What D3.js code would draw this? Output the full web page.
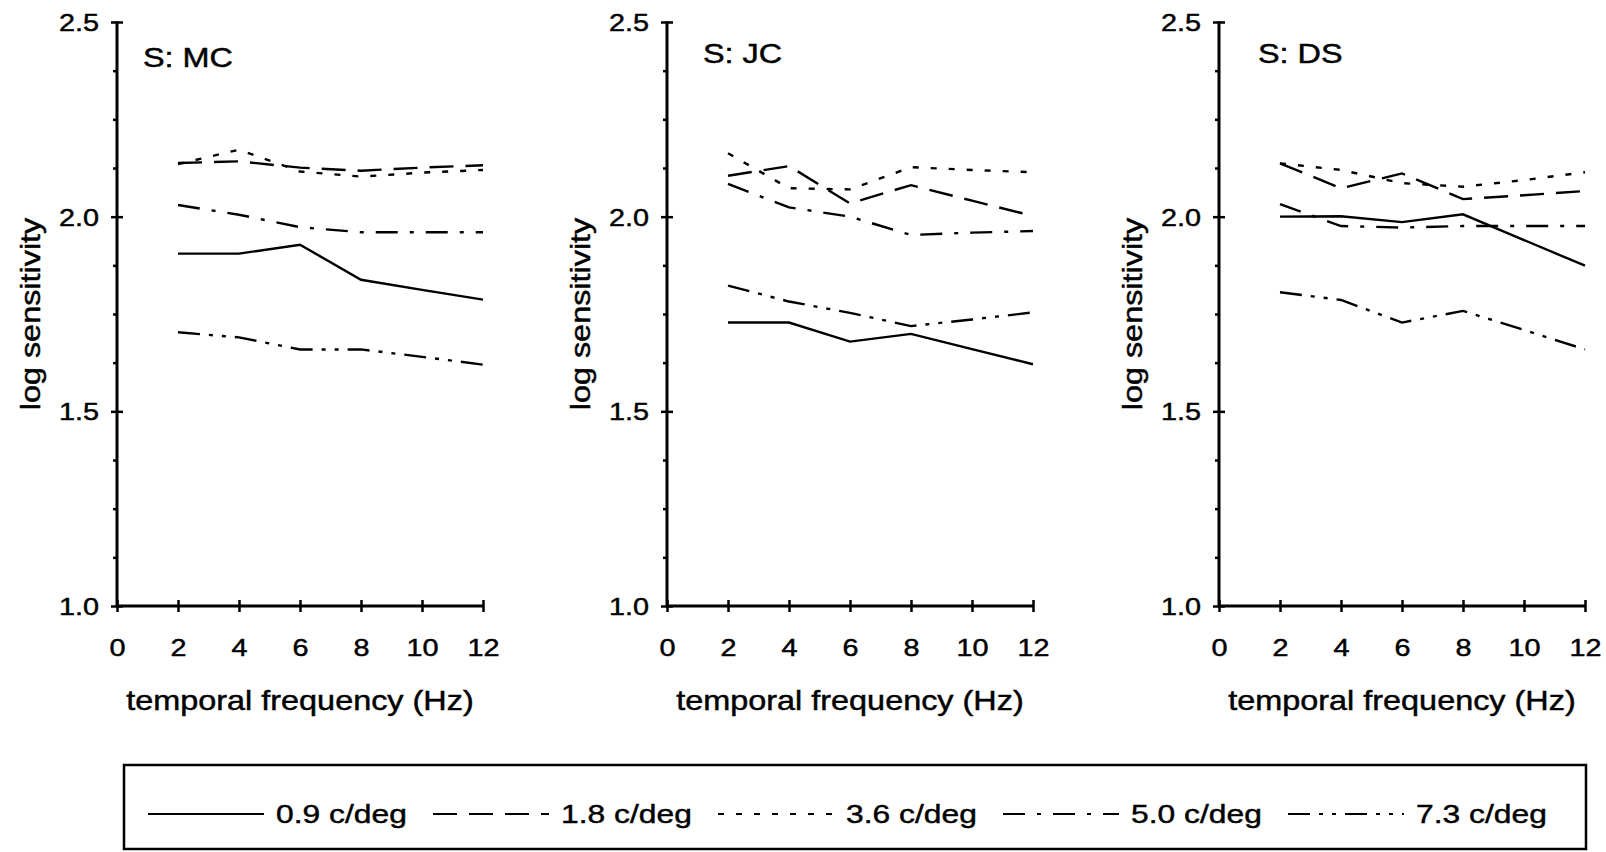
<!DOCTYPE html>
<meta charset="utf-8">
<script src="https://d3js.org/d3.v7.min.js"></script>
<style>
  body { margin: 0; background: #fff; }
  text { font-family: "Liberation Sans", Arial, sans-serif; fill: #000; stroke: #000; stroke-width: 0.45px; }
  .line { fill: none; stroke: #000; stroke-width: 2.4px; }
  .domain { stroke: #000; stroke-width: 3px; }
  .tick line { stroke: #000; stroke-width: 2.5px; }
</style>
<body>
<script>
// temporal frequencies (Hz)
var freqs = [2, 4, 6, 8, 10, 12];
var seriesNames = ["0.9 c/deg", "1.8 c/deg", "3.6 c/deg", "5.0 c/deg", "7.3 c/deg"];
var subjects = ["S: MC", "S: JC", "S: DS"];

// log sensitivity, one array per spatial frequency, per subject
var mc09 = [1.905, 1.905, 1.928, 1.838, 1.812, 1.787];
var mc18 = [2.138, 2.142, 2.126, 2.118, 2.126, 2.132];
var mc36 = [2.135, 2.172, 2.116, 2.103, 2.113, 2.120];
var mc50 = [2.030, 2.005, 1.973, 1.960, 1.960, 1.960];
var mc73 = [1.703, 1.690, 1.659, 1.659, 1.640, 1.620];

var jc09 = [1.728, 1.728, 1.679, 1.699, 1.660, 1.621];
var jc18 = [2.105, 2.130, 2.034, 2.081, 2.041, 2.002];
var jc36 = [2.163, 2.073, 2.070, 2.127, 2.120, 2.114];
var jc50 = [2.084, 2.024, 2.000, 1.953, 1.959, 1.963];
var jc73 = [1.823, 1.782, 1.753, 1.719, 1.736, 1.754];

var ds09 = [2.000, 2.001, 1.986, 2.006, 1.940, 1.874];
var ds18 = [2.137, 2.073, 2.111, 2.045, 2.055, 2.066];
var ds36 = [2.137, 2.120, 2.086, 2.077, 2.094, 2.114];
var ds50 = [2.032, 1.976, 1.972, 1.976, 1.976, 1.976];
var ds73 = [1.806, 1.786, 1.728, 1.758, 1.709, 1.659];

var panelData = [
  [mc09, mc18, mc36, mc50, mc73],
  [jc09, jc18, jc36, jc50, jc73],
  [ds09, ds18, ds36, ds50, ds73]
];

var xTicks = [0, 2, 4, 6, 8, 10, 12];
var yMajor = [1.0, 1.5, 2.0, 2.5];
var yMinor = d3.range(1.0, 2.5001, 0.125);

// line styles (solid, dashed, dotted, dash-dot, dash-dot-dot)
var dashStyles = [null, "24,12", "6,12", "22,12,4,12", "22,9,4,9,4,9"];

var svg = d3.select("body").append("svg")
  .attr("width", 1606)
  .attr("height", 852);

var stretch = 1.2; // the scanned lettering is wide

var panelLeft = [117, 667, 1219];
var pw = 366, plotTop = 22, plotBottom = 606;

var y = d3.scaleLinear().domain([1.0, 2.5]).range([plotBottom, plotTop]);

function isMajor(d) {
  return yMajor.some(function(m) { return Math.abs(m - d) < 1e-6; });
}

panelLeft.forEach(function(left, p) {
  var x = d3.scaleLinear().domain([0, 12]).range([left, left + pw]);
  var g = svg.append("g");

  // x axis
  var gx = g.append("g")
    .attr("transform", "translate(0," + plotBottom + ")")
    .call(d3.axisBottom(x).tickValues(xTicks).tickSizeOuter(0).tickFormat(d3.format("d")));
  gx.selectAll(".tick line").attr("y1", -6).attr("y2", 6);
  gx.selectAll(".tick text")
    .attr("y", 50).attr("dy", null)
    .style("font-size", "24px")
    .attr("transform", "scale(" + stretch + ",1)");

  // y axis
  var gy = g.append("g")
    .attr("transform", "translate(" + left + ",0)")
    .call(d3.axisLeft(y).tickValues(yMinor).tickSizeOuter(0)
      .tickFormat(function(d) { return isMajor(d) ? d3.format(".1f")(d) : ""; }));
  gy.selectAll(".tick line")
    .attr("x1", function(d) { return isMajor(d) ? 6 : 0; })
    .attr("x2", function(d) { return isMajor(d) ? -6 : -4; });
  gy.selectAll(".tick text")
    .attr("x", -15).attr("dy", "0.36em")
    .style("font-size", "24px")
    .attr("transform", "scale(" + stretch + ",1)");
  gy.select(".domain").attr("d", "M0," + (plotTop - 1) + "V" + (plotBottom + 1));
  gx.select(".domain").attr("d", "M" + left + ",0H" + (left + pw));

  // axis titles
  g.append("text")
    .attr("transform", "translate(" + (left + pw / 2) + "," + (plotBottom + 104) + ") scale(" + stretch + ",1)")
    .attr("text-anchor", "middle")
    .style("font-size", "27px")
    .text("temporal frequency (Hz)");

  g.append("text")
    .attr("transform", "translate(" + (left - 77) + "," + ((plotTop + plotBottom) / 2) + ") rotate(-90) scale(" + stretch + ",1)")
    .attr("text-anchor", "middle")
    .style("font-size", "27px")
    .text("log sensitivity");

  g.append("text")
    .attr("transform", "translate(" + [143, 703, 1258][p] + "," + [67, 63, 63][p] + ") scale(" + stretch + ",1)")
    .style("font-size", "27px")
    .text(subjects[p]);

  var line = d3.line()
    .x(function(d, i) { return x(freqs[i]); })
    .y(function(d) { return y(d); });

  g.selectAll("path.line")
    .data(panelData[p])
    .enter().append("path")
    .attr("class", "line")
    .attr("d", line)
    .attr("stroke-dasharray", function(d, i) { return dashStyles[i]; });
});

// legend
var legend = svg.append("g");
legend.append("rect")
  .attr("x", 124).attr("y", 765)
  .attr("width", 1462).attr("height", 84)
  .attr("fill", "none").attr("stroke", "#000").attr("stroke-width", 2.5);

var lx = d3.scaleBand().domain(d3.range(seriesNames.length)).range([148, 148 + 5 * 285]);
var items = legend.selectAll("g.item")
  .data(seriesNames)
  .enter().append("g")
  .attr("transform", function(d, i) { return "translate(" + lx(i) + ",823)"; });
items.append("line")
  .attr("x1", 0).attr("x2", 116).attr("y1", -9).attr("y2", -9)
  .attr("stroke", "#000").attr("stroke-width", 2)
  .attr("stroke-dasharray", function(d, i) { return dashStyles[i]; });
items.append("text")
  .attr("transform", "translate(128,0) scale(" + stretch + ",1)")
  .style("font-size", "26.5px")
  .text(function(d) { return d; });
</script>
</body>
